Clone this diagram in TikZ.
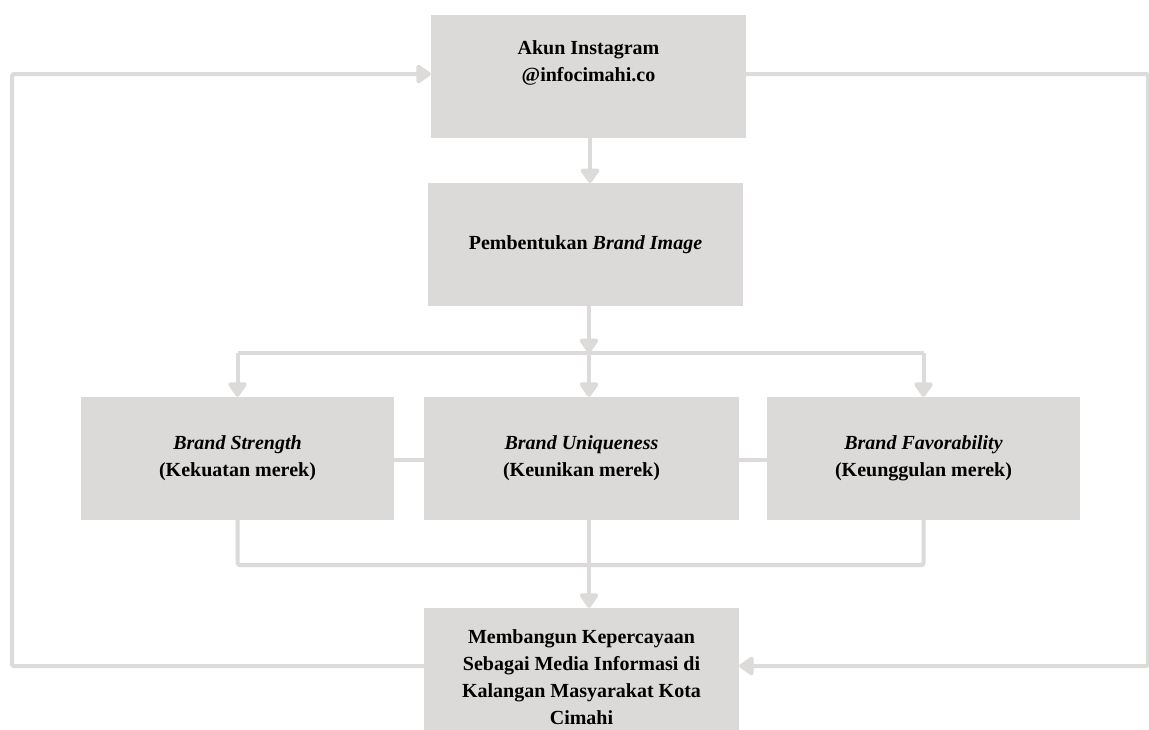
\documentclass[tikz,border=0pt]{standalone}
\usepackage{fontspec}
\setmainfont{Liberation Serif}
\usetikzlibrary{arrows.meta,calc}
\definecolor{boxgray}{HTML}{DBDAD8}
\definecolor{linegray}{HTML}{DCDBD9}
\begin{document}
\begin{tikzpicture}[x=1pt,y={(0pt,-1pt)},
  box/.style={fill=boxgray,draw=none,minimum width=315pt,minimum height=123pt,
    align=center,inner sep=0pt,font=\fontsize{20}{27}\selectfont\bfseries},
  conn/.style={draw=linegray,line width=4pt,line join=round,rounded corners=2pt},
  arr/.style={conn,arrows={-Triangle[width=21pt,length=16pt,line join=round]}}]
\useasboundingbox (0,0) rectangle (1149,729);
\fill[white] (0,0) rectangle (1149,729);
\node[box] (top) at (588.5,76) {Akun Instagram\\@infocimahi.co\\[3pt]\mbox{}};
\node[box] (img) at (585.5,244.5) {Pembentukan \textit{Brand Image}};
\node[box,minimum width=313pt] (str) at (237.5,458.5) {\textit{Brand Strength}\\(Kekuatan merek)};
\node[box] (uni) at (581.5,458.5) {\textit{Brand Uniqueness}\\(Keunikan merek)};
\node[box,minimum width=313pt] (fav) at (923.5,458.5) {\textit{Brand Favorability}\\(Keunggulan merek)};
\node[box,minimum height=138pt] (res) at (581.5,677) {Membangun Kepercayaan\\Sebagai Media Informasi di\\Kalangan Masyarakat Kota\\Cimahi};
\coordinate (split) at (589,353);
\coordinate (join) at (589,565);
\coordinate (lx) at (12,0);
\coordinate (rx) at (1148,0);
% top -> image
\draw[arr] (590,138) -- (590,183);
% image -> split
\draw[arr] (img.south -| split) -- (split);
\draw[conn] (str.north |- split) -- (fav.north |- split);
\draw[arr] (str.north |- split) -- (str.north);
\draw[arr] (split) -- (split |- uni.north);
\draw[arr] (fav.north |- split) -- (fav.north);
% side links between level boxes
\draw[conn] (str.east |- 0,460) -- (uni.west |- 0,460);
\draw[conn] (uni.east |- 0,460) -- (fav.west |- 0,460);
% join
\draw[conn] (str.south) -- (str.south |- join) -- (fav.south |- join) -- (fav.south);
\draw[arr] (uni.south -| join) -- (join |- res.north);
% loops
\draw[arr] (res.west |- 0,666) -- (lx |- 0,666) -- (lx |- 0,74) -- (top.west |- 0,74);
\draw[arr] (top.east |- 0,74) -- (rx |- 0,74) -- (rx |- 0,666) -- (res.east |- 0,666);
\end{tikzpicture}
\end{document}
